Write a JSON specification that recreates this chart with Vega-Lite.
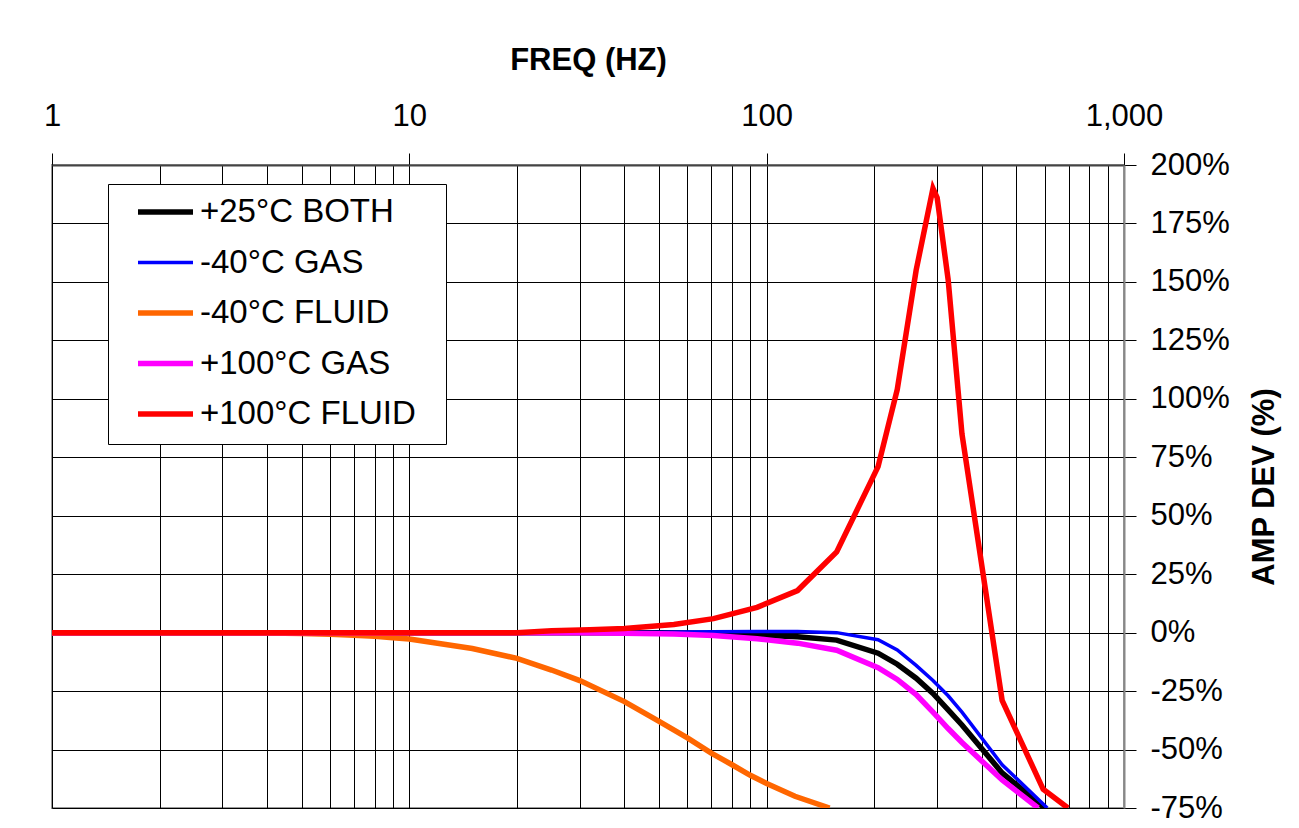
{
  "$schema": "https://vega.github.io/schema/vega-lite/v6.json",
  "width": 1072,
  "height": 643,
  "autosize": {"type": "none"},
  "padding": {"left": 52, "top": 165, "right": 175, "bottom": 20},
  "background": "white",
  "config": {
    "view": {"stroke": "#999", "strokeWidth": 2},
    "font": "Liberation Sans"
  },
  "data": {
    "values": [
      {"s": "+25°C BOTH", "f": 1, "v": 0}, {"s": "+25°C BOTH", "f": 2, "v": 0}, {"s": "+25°C BOTH", "f": 3, "v": 0}, {"s": "+25°C BOTH", "f": 5, "v": 0}, {"s": "+25°C BOTH", "f": 10, "v": 0}, {"s": "+25°C BOTH", "f": 20, "v": 0}, {"s": "+25°C BOTH", "f": 30, "v": 0}, {"s": "+25°C BOTH", "f": 40, "v": 0}, {"s": "+25°C BOTH", "f": 50, "v": 0}, {"s": "+25°C BOTH", "f": 60, "v": -0.2}, {"s": "+25°C BOTH", "f": 70, "v": -0.4}, {"s": "+25°C BOTH", "f": 94, "v": -1}, {"s": "+25°C BOTH", "f": 122, "v": -1.8}, {"s": "+25°C BOTH", "f": 157, "v": -3.2}, {"s": "+25°C BOTH", "f": 205, "v": -8.8}, {"s": "+25°C BOTH", "f": 232, "v": -13.5}, {"s": "+25°C BOTH", "f": 262, "v": -19.5}, {"s": "+25°C BOTH", "f": 292, "v": -26}, {"s": "+25°C BOTH", "f": 322, "v": -33}, {"s": "+25°C BOTH", "f": 352, "v": -39.5}, {"s": "+25°C BOTH", "f": 456, "v": -60}, {"s": "+25°C BOTH", "f": 600, "v": -75},
      {"s": "-40°C GAS", "f": 1, "v": 0}, {"s": "-40°C GAS", "f": 2, "v": 0}, {"s": "-40°C GAS", "f": 5, "v": 0}, {"s": "-40°C GAS", "f": 10, "v": 0}, {"s": "-40°C GAS", "f": 20, "v": 0}, {"s": "-40°C GAS", "f": 30, "v": 0}, {"s": "-40°C GAS", "f": 50, "v": 0.2}, {"s": "-40°C GAS", "f": 70, "v": 0.4}, {"s": "-40°C GAS", "f": 94, "v": 0.5}, {"s": "-40°C GAS", "f": 122, "v": 0.5}, {"s": "-40°C GAS", "f": 157, "v": 0}, {"s": "-40°C GAS", "f": 205, "v": -3}, {"s": "-40°C GAS", "f": 232, "v": -7.4}, {"s": "-40°C GAS", "f": 262, "v": -14}, {"s": "-40°C GAS", "f": 292, "v": -20.5}, {"s": "-40°C GAS", "f": 322, "v": -27}, {"s": "-40°C GAS", "f": 352, "v": -34}, {"s": "-40°C GAS", "f": 456, "v": -56.5}, {"s": "-40°C GAS", "f": 610, "v": -75},
      {"s": "-40°C FLUID", "f": 1, "v": 0}, {"s": "-40°C FLUID", "f": 2, "v": 0}, {"s": "-40°C FLUID", "f": 3, "v": 0}, {"s": "-40°C FLUID", "f": 4, "v": -0.2}, {"s": "-40°C FLUID", "f": 5, "v": -0.4}, {"s": "-40°C FLUID", "f": 6, "v": -0.7}, {"s": "-40°C FLUID", "f": 7, "v": -1.1}, {"s": "-40°C FLUID", "f": 8, "v": -1.6}, {"s": "-40°C FLUID", "f": 9, "v": -2.2}, {"s": "-40°C FLUID", "f": 10, "v": -2.7}, {"s": "-40°C FLUID", "f": 15, "v": -6.8}, {"s": "-40°C FLUID", "f": 20, "v": -11}, {"s": "-40°C FLUID", "f": 25, "v": -16}, {"s": "-40°C FLUID", "f": 30, "v": -20.5}, {"s": "-40°C FLUID", "f": 40, "v": -29.5}, {"s": "-40°C FLUID", "f": 50, "v": -38}, {"s": "-40°C FLUID", "f": 60, "v": -45}, {"s": "-40°C FLUID", "f": 70, "v": -51.5}, {"s": "-40°C FLUID", "f": 80, "v": -56.5}, {"s": "-40°C FLUID", "f": 90, "v": -61}, {"s": "-40°C FLUID", "f": 100, "v": -64.5}, {"s": "-40°C FLUID", "f": 120, "v": -70}, {"s": "-40°C FLUID", "f": 150, "v": -75},
      {"s": "+100°C GAS", "f": 1, "v": 0}, {"s": "+100°C GAS", "f": 2, "v": 0}, {"s": "+100°C GAS", "f": 5, "v": 0}, {"s": "+100°C GAS", "f": 10, "v": 0}, {"s": "+100°C GAS", "f": 20, "v": 0}, {"s": "+100°C GAS", "f": 30, "v": 0}, {"s": "+100°C GAS", "f": 40, "v": -0.3}, {"s": "+100°C GAS", "f": 55, "v": -0.6}, {"s": "+100°C GAS", "f": 71, "v": -1.2}, {"s": "+100°C GAS", "f": 94, "v": -2.6}, {"s": "+100°C GAS", "f": 122, "v": -4.5}, {"s": "+100°C GAS", "f": 157, "v": -7.5}, {"s": "+100°C GAS", "f": 205, "v": -15}, {"s": "+100°C GAS", "f": 232, "v": -20}, {"s": "+100°C GAS", "f": 262, "v": -26.5}, {"s": "+100°C GAS", "f": 292, "v": -34}, {"s": "+100°C GAS", "f": 322, "v": -41}, {"s": "+100°C GAS", "f": 352, "v": -47}, {"s": "+100°C GAS", "f": 456, "v": -63}, {"s": "+100°C GAS", "f": 575, "v": -75},
      {"s": "+100°C FLUID", "f": 1, "v": 0}, {"s": "+100°C FLUID", "f": 2, "v": 0}, {"s": "+100°C FLUID", "f": 5, "v": 0}, {"s": "+100°C FLUID", "f": 10, "v": 0}, {"s": "+100°C FLUID", "f": 20, "v": 0}, {"s": "+100°C FLUID", "f": 25, "v": 0.8}, {"s": "+100°C FLUID", "f": 32, "v": 1.2}, {"s": "+100°C FLUID", "f": 40, "v": 1.8}, {"s": "+100°C FLUID", "f": 55, "v": 3.5}, {"s": "+100°C FLUID", "f": 71, "v": 6}, {"s": "+100°C FLUID", "f": 94, "v": 10.8}, {"s": "+100°C FLUID", "f": 122, "v": 18}, {"s": "+100°C FLUID", "f": 157, "v": 34.5}, {"s": "+100°C FLUID", "f": 205, "v": 71}, {"s": "+100°C FLUID", "f": 232, "v": 104}, {"s": "+100°C FLUID", "f": 262, "v": 155}, {"s": "+100°C FLUID", "f": 292, "v": 190}, {"s": "+100°C FLUID", "f": 300, "v": 186}, {"s": "+100°C FLUID", "f": 322, "v": 151}, {"s": "+100°C FLUID", "f": 352, "v": 85}, {"s": "+100°C FLUID", "f": 456, "v": -29}, {"s": "+100°C FLUID", "f": 594, "v": -67}, {"s": "+100°C FLUID", "f": 697, "v": -75}
    ]
  },
  "mark": {"type": "line", "clip": true},
  "encoding": {
    "x": {
      "field": "f",
      "type": "quantitative",
      "scale": {"type": "log", "domain": [1, 1000]},
      "axis": {
        "orient": "top",
        "values": [1, 2, 3, 4, 5, 6, 7, 8, 9, 10, 20, 30, 40, 50, 60, 70, 80, 90, 100, 200, 300, 400, 500, 600, 700, 800, 900, 1000],
        "labelExpr": "indexof([1, 10, 100, 1000], datum.value) >= 0 ? format(datum.value, ',') : ''",
        "grid": true,
        "gridColor": "#000",
        "gridWidth": 1,
        "gridOpacity": 1,
        "tickColor": "#000",
        "tickSize": 12,
        "tickWidth": 1,
        "tickOpacity": {"condition": {"test": "indexof([1, 10, 100, 1000], datum.value) >= 0", "value": 1}, "value": 0},
        "labelFont": "Liberation Sans",
        "labelFontSize": 31,
        "labelColor": "#000",
        "labelPadding": 21,
        "labelFlush": false,
        "labelOverlap": false,
        "labelBound": false,
        "title": "FREQ (HZ)",
        "titleFont": "Liberation Sans",
        "titleFontSize": 31,
        "titleFontWeight": "bold",
        "titleColor": "#000",
        "titlePadding": 24,
        "domainColor": "#444",
        "domainWidth": 2
      }
    },
    "y": {
      "field": "v",
      "type": "quantitative",
      "scale": {"domain": [-75, 200], "nice": false, "zero": false},
      "axis": {
        "orient": "right",
        "values": [-75, -50, -25, 0, 25, 50, 75, 100, 125, 150, 175, 200],
        "labelExpr": "datum.value + '%'",
        "grid": true,
        "gridColor": "#000",
        "gridWidth": 1,
        "gridOpacity": 1,
        "tickColor": "#000",
        "tickSize": 12,
        "labelFont": "Liberation Sans",
        "labelFontSize": 31,
        "labelColor": "#000",
        "labelPadding": 14,
        "labelOverlap": false,
        "labelBound": false,
        "labelFlush": false,
        "title": "AMP DEV (%)",
        "titleAngle": 270,
        "titleFont": "Liberation Sans",
        "titleFontSize": 31,
        "titleFontWeight": "bold",
        "titleColor": "#000",
        "titlePadding": 51,
        "domainColor": "#888",
        "domainWidth": 2
      }
    },
    "color": {
      "field": "s",
      "type": "nominal",
      "scale": {
        "domain": ["+25°C BOTH", "-40°C GAS", "-40°C FLUID", "+100°C GAS", "+100°C FLUID"],
        "range": ["#000000", "#0000ff", "#ff6600", "#ff00ff", "#ff0000"]
      },
      "legend": {
        "orient": "none",
        "legendX": 56,
        "legendY": 19,
        "title": null,
        "strokeColor": "#000",
        "fillColor": "#fff",
        "padding": 13,
        "symbolType": "stroke",
        "symbolSize": 3025,
        "symbolStrokeWidth": 5.5,
        "clipHeight": 30,
        "rowPadding": 17.5,
        "labelFont": "Liberation Sans",
        "labelFontSize": 33,
        "labelColor": "#000",
        "labelOffset": 18,
        "labelLimit": 400,
        "labelExpr": "datum.label + '\u2002\u200b'",
        "symbolOffset": 28,
        "encode": {
          "symbols": {"update": {"strokeWidth": {"signal": "datum.value === '-40°C GAS' ? 3.5 : 5.5"}}}
        }
      }
    },
    "strokeWidth": {
      "condition": {"test": "datum.s === '-40°C GAS'", "value": 3.5},
      "value": 5.5
    }
  }
}
